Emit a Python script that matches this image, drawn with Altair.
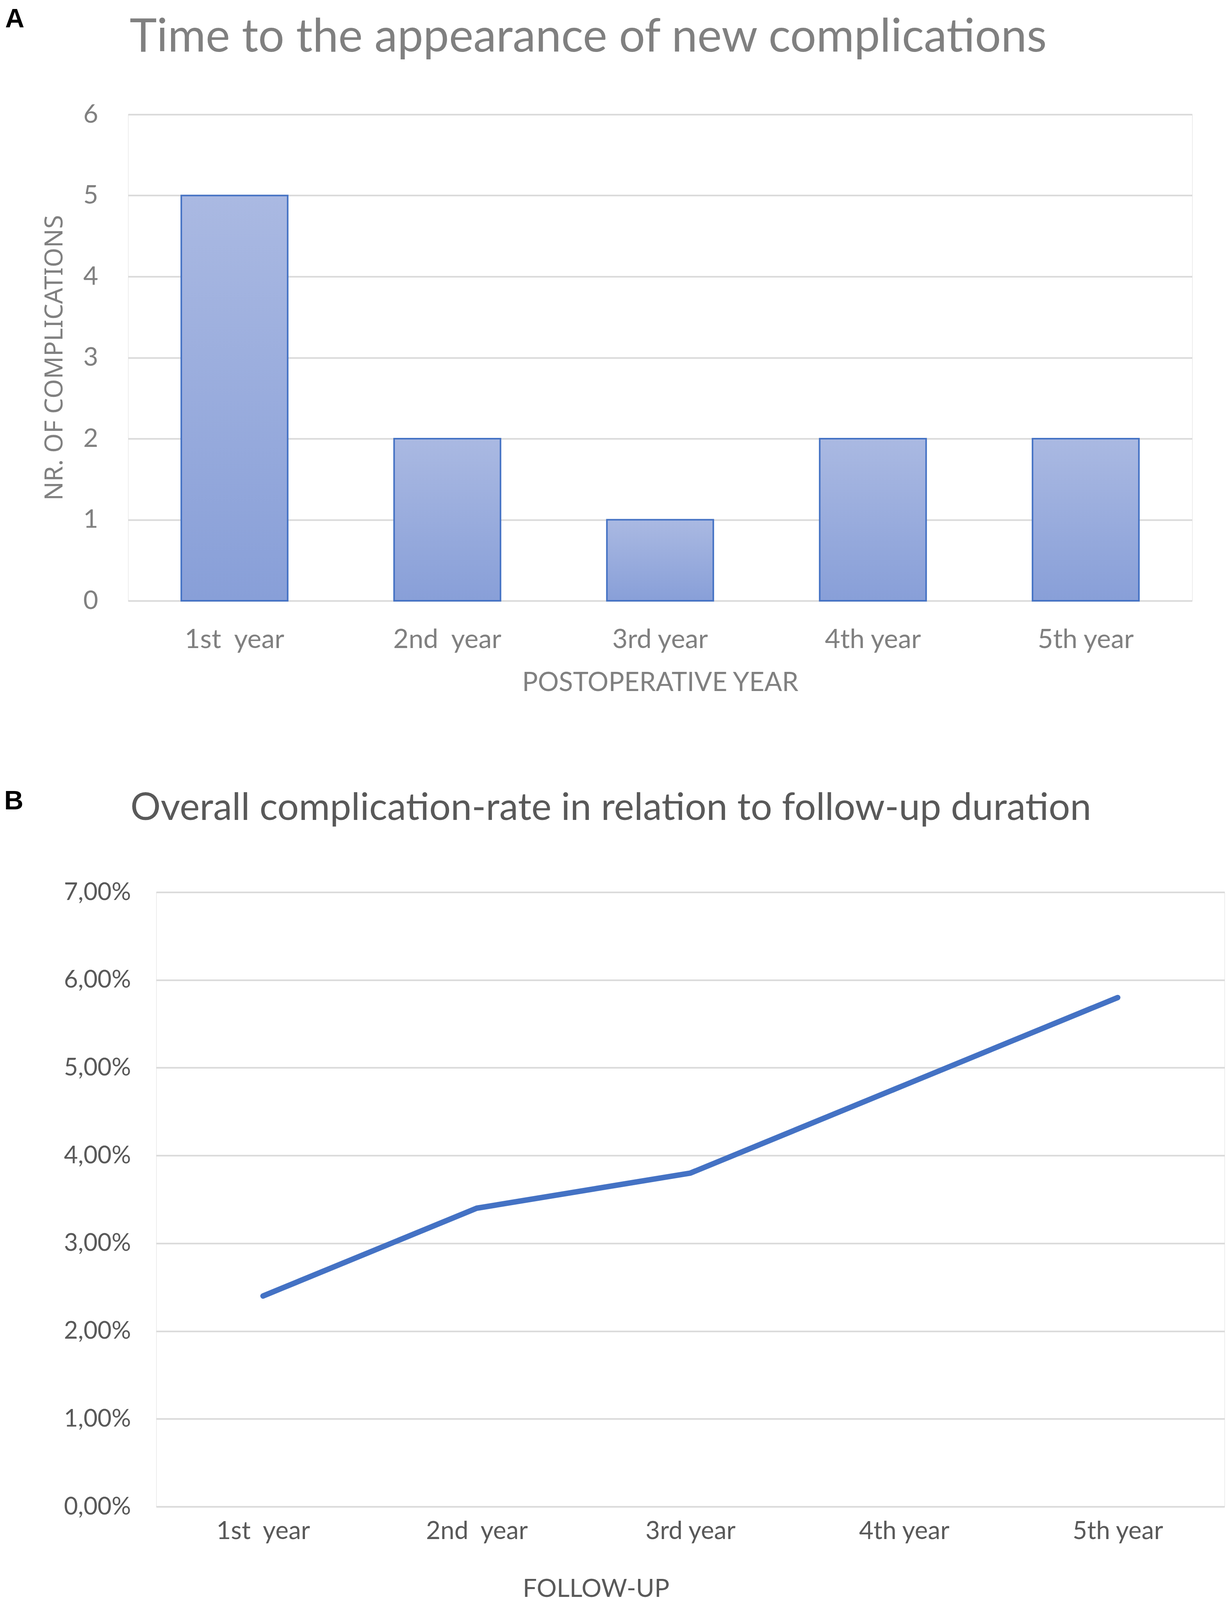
import altair as alt
import pandas as pd

# ---- data ----
NB = "\u00a0"
years = ["1st" + NB + " year", "2nd" + NB + " year", "3rd year", "4th year", "5th year"]
complications = [5, 2, 1, 2, 2]
rate = [0.024, 0.034, 0.038, 0.048, 0.058]
count_ticks = [0, 1, 2, 3, 4, 5, 6]
rate_ticks = [0.0, 0.01, 0.02, 0.03, 0.04, 0.05, 0.06, 0.07]

dfA = pd.DataFrame({"year": years, "n": complications})
dfB = pd.DataFrame({"year": years, "rate": rate})

FONT = "Lato"
GRID = "#D9D9D9"
GREY_A = "#808080"
GREY_B = "#595959"
BLUE = "#4472C4"

grad = alt.LinearGradient(
    gradient="linear",
    stops=[alt.GradientStop(color="#AAB9E2", offset=0),
           alt.GradientStop(color="#889FD8", offset=1)],
    x1=1, x2=1, y1=0, y2=1,
)

barA = alt.Chart(dfA).mark_bar(fill=grad, stroke=BLUE, strokeWidth=4).encode(
    x=alt.X("year:N", sort=years,
            scale=alt.Scale(paddingInner=0.5, paddingOuter=0.25),
            axis=alt.Axis(title="POSTOPERATIVE YEAR", labelAngle=0, labelFont=FONT,
                          labelFontSize=68, labelColor=GREY_A, labelPadding=66,
                          labelLimit=0, ticks=False, domain=False, grid=False,
                          titleFont=FONT, titleFontSize=67, titleColor=GREY_A,
                          titleFontWeight="normal", titlePadding=43)),
    y=alt.Y("n:Q", scale=alt.Scale(domain=[0, 6]),
            axis=alt.Axis(values=count_ticks, title="NR. OF COMPLICATIONS",
                          labelFont=FONT, labelFontSize=66, labelColor=GREY_A,
                          labelPadding=77, ticks=False, domain=False,
                          grid=True, gridColor=GRID, gridWidth=4,
                          titleFont="Noto Sans", titleFontSize=64, titleColor=GREY_A,
                          titleFontWeight="normal", titlePadding=40)),
).properties(
    width=2725, height=1245,
    title=alt.TitleParams("Time to the appearance of new complications", anchor="start",
                          frame="group", dx=4, font=FONT, fontSize=118, color=GREY_A,
                          fontWeight="normal", baseline="alphabetic", offset=10),
)

lineB = alt.Chart(dfB).mark_line(color=BLUE, strokeWidth=14, strokeCap="round",
                                 strokeJoin="round").encode(
    x=alt.X("year:N", sort=years, scale=alt.Scale(type="point", padding=0.5),
            axis=alt.Axis(title="FOLLOW-UP", labelAngle=0, labelFont=FONT,
                          labelFontSize=64, labelColor=GREY_B, labelPadding=31,
                          labelLimit=0, ticks=False, domain=False, grid=False,
                          titleFont=FONT, titleFontSize=64, titleColor=GREY_B,
                          titleFontWeight="normal", titlePadding=84, titleX=1126)),
    y=alt.Y("rate:Q", scale=alt.Scale(domain=[0, 0.07]),
            axis=alt.Axis(values=rate_ticks, title=None,
                          labelExpr="replace(format(datum.value, '.2%'), '.', ',')",
                          labelFont=FONT, labelFontSize=62, labelColor=GREY_B,
                          labelPadding=65, ticks=False, domain=False,
                          grid=True, gridColor=GRID, gridWidth=4)),
).properties(
    width=2736, height=1573,
    title=alt.TitleParams("Overall complication-rate in relation to follow-up duration",
                          anchor="start", frame="group", dx=-66, font=FONT, fontSize=97,
                          color=GREY_B, fontWeight="normal", baseline="alphabetic",
                          offset=57),
)

spacer = alt.Chart(pd.DataFrame({"s": [0]})).mark_point(opacity=0).encode(
    x=alt.X("s:Q", axis=None), y=alt.Y("s:Q", axis=None)
).properties(width=1, height=1)

panelA = alt.hconcat(
    barA,
    title=alt.TitleParams("A", anchor="start", frame="bounds", dx=-95, offset=-100,
                          font="Liberation Sans", fontWeight="bold", fontSize=68,
                          color="black", baseline="alphabetic"),
)
panelB = alt.hconcat(
    spacer, lineB, spacing=-170,
    title=alt.TitleParams("B", anchor="start", frame="bounds", dx=-152, offset=-119,
                          font="Liberation Sans", fontWeight="bold", fontSize=68,
                          color="black", baseline="alphabetic"),
)

chart = alt.vconcat(panelA, panelB, spacing=235).properties(
    padding={"left": 2, "top": 7, "right": 0, "bottom": 0}
).configure_view(stroke=None).configure(font=FONT, background="white")

chart.save("out.html", embed_options={"renderer": "svg", "actions": False})
